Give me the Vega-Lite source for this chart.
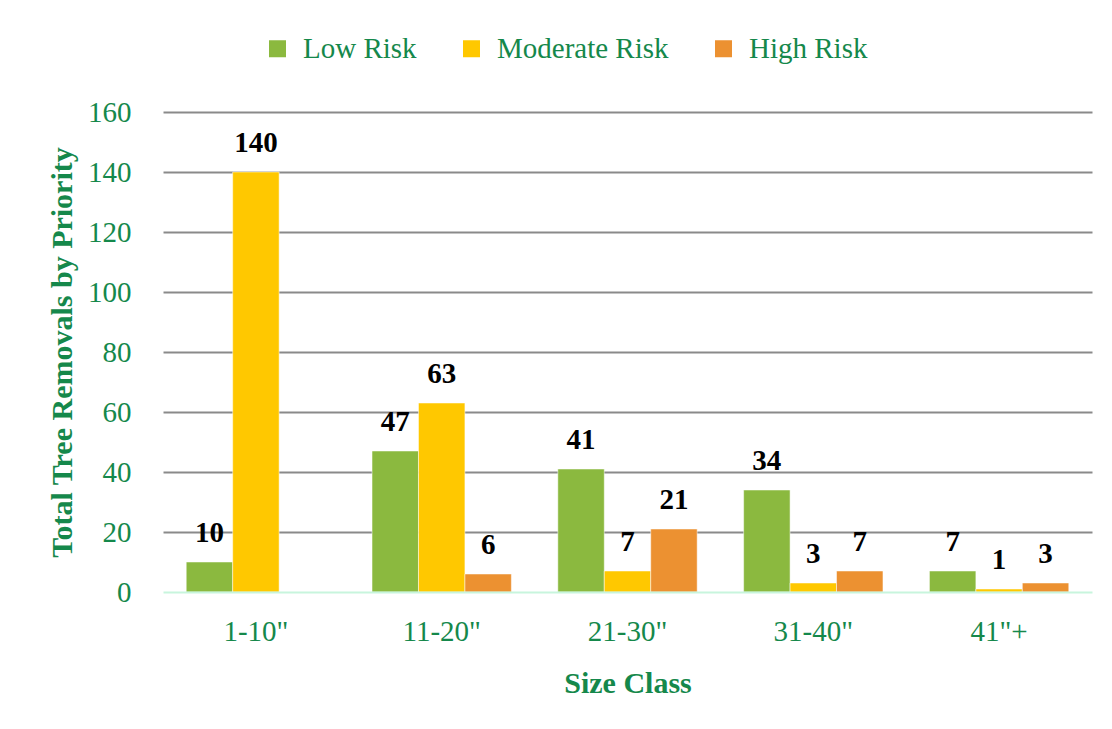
{
  "$schema": "https://vega.github.io/schema/vega-lite/v6.json",
  "width": 929,
  "height": 480,
  "autosize": {"type": "none"},
  "padding": {"left": 163, "top": 112, "right": 20, "bottom": 137},
  "background": "white",
  "data": {
    "values": [
      {"size": "1-10\"", "risk": "Low Risk", "count": 10},
      {"size": "1-10\"", "risk": "Moderate Risk", "count": 140},
      {"size": "1-10\"", "risk": "High Risk", "count": 0},
      {"size": "11-20\"", "risk": "Low Risk", "count": 47},
      {"size": "11-20\"", "risk": "Moderate Risk", "count": 63},
      {"size": "11-20\"", "risk": "High Risk", "count": 6},
      {"size": "21-30\"", "risk": "Low Risk", "count": 41},
      {"size": "21-30\"", "risk": "Moderate Risk", "count": 7},
      {"size": "21-30\"", "risk": "High Risk", "count": 21},
      {"size": "31-40\"", "risk": "Low Risk", "count": 34},
      {"size": "31-40\"", "risk": "Moderate Risk", "count": 3},
      {"size": "31-40\"", "risk": "High Risk", "count": 7},
      {"size": "41\"+", "risk": "Low Risk", "count": 7},
      {"size": "41\"+", "risk": "Moderate Risk", "count": 1},
      {"size": "41\"+", "risk": "High Risk", "count": 3}
    ]
  },
  "encoding": {
    "x": {
      "field": "size",
      "type": "nominal",
      "sort": null,
      "scale": {"paddingInner": 0.25, "paddingOuter": 0.125},
      "axis": {
        "title": "Size Class",
        "labelAngle": 0,
        "labelPadding": 25,
        "titlePadding": 22,
        "ticks": false,
        "domainColor": "#c8f5dd",
        "domainWidth": 2,
        "zindex": 1
      }
    },
    "xOffset": {
      "field": "risk",
      "type": "nominal",
      "sort": ["Low Risk", "Moderate Risk", "High Risk"],
      "scale": {"paddingInner": 0, "paddingOuter": 0}
    },
    "y": {
      "field": "count",
      "type": "quantitative",
      "scale": {"domain": [0, 160], "nice": false},
      "axis": {
        "title": "Total Tree Removals by Priority",
        "values": [0, 20, 40, 60, 80, 100, 120, 140, 160],
        "domain": false,
        "ticks": false,
        "labelPadding": 32,
        "titlePadding": 10,
        "gridColor": {"condition": {"test": "datum.value === 0", "value": "transparent"}, "value": "#8a8a8a"},
        "gridWidth": 2
      }
    }
  },
  "layer": [
    {
      "mark": {"type": "bar", "stroke": "white", "strokeWidth": 0.5},
      "encoding": {
        "color": {
          "field": "risk",
          "type": "nominal",
          "sort": ["Low Risk", "Moderate Risk", "High Risk"],
          "scale": {
            "domain": ["Low Risk", "Moderate Risk", "High Risk"],
            "range": ["#8bb93f", "#ffc800", "#ec9131"]
          },
          "legend": {
            "title": null,
            "orient": "none",
            "direction": "horizontal",
            "legendX": 100,
            "legendY": -78,
            "symbolType": "square",
            "symbolSize": 289,
            "symbolStrokeWidth": 0,
            "labelOffset": 11,
            "columnPadding": 40
          }
        }
      }
    },
    {
      "transform": [{"filter": "datum.count > 0"}],
      "mark": {
        "type": "text",
        "baseline": "alphabetic",
        "dy": -20,
        "font": "Liberation Serif",
        "fontSize": 29,
        "fontWeight": "bold",
        "color": "#000000"
      },
      "encoding": {
        "text": {"field": "count", "type": "quantitative"}
      }
    }
  ],
  "config": {
    "view": {"stroke": null},
    "font": "Liberation Serif",
    "axis": {
      "labelFont": "Liberation Serif",
      "labelFontSize": 29,
      "labelColor": "#15884b",
      "titleFont": "Liberation Serif",
      "titleFontSize": 30,
      "titleFontWeight": "bold",
      "titleColor": "#15884b"
    },
    "legend": {
      "labelFont": "Liberation Serif",
      "labelFontSize": 29,
      "labelColor": "#15884b",
      "labelLimit": 400
    }
  }
}
